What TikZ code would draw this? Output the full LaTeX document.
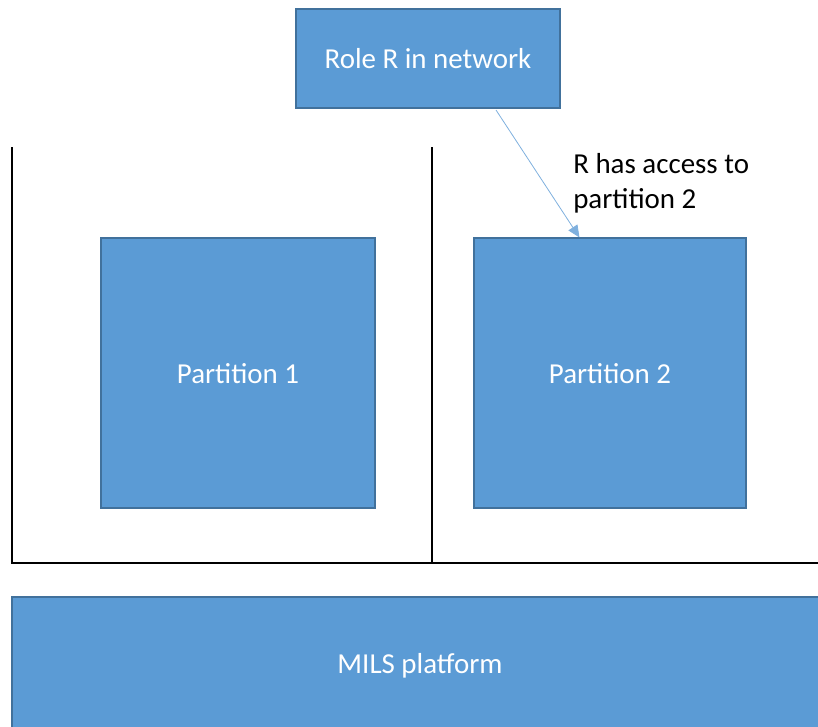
\documentclass[tikz,border=0pt]{standalone}
\usepackage{fontspec}
\setmainfont{Carlito}
\usepackage{xcolor}
\usepackage{tikz}
\usetikzlibrary{calc,arrows.meta}
\definecolor{boxfill}{HTML}{5B9BD5}
\definecolor{boxedge}{HTML}{41719C}
\definecolor{arrowc}{HTML}{7FB0DE}
\tikzset{
  blk/.style={draw=boxedge, fill=boxfill, line width=0.8pt, text=white,
    inner sep=0pt, text height=17pt, text depth=2pt,
    font=\fontsize{21.7}{26}\selectfont},
  wall/.style={draw=black, line width=1.6pt, line cap=rect},
  link/.style={draw=arrowc, line width=0.6pt, -{Triangle[length=9pt,width=8pt]}},
  lab/.style={text=black, font=\fontsize{21.7}{26.2}\selectfont, align=left,
    inner sep=0pt},
}

\begin{document}
\begin{tikzpicture}[x=0.75pt,y=-0.75pt]
  \useasboundingbox (0,0) rectangle (818,726);

  % partitions walls
  \coordinate (wtl) at (12,148);
  \coordinate (wtm) at (432,148);
  \coordinate (wbm) at (432,563);
  \coordinate (wbr) at (818,563);
  \draw[wall] (wtl) |- (wbr);
  \draw[wall] (wtm) -- (wbm);

  \node[blk, minimum width=264*0.75pt, minimum height=99*0.75pt] (role) at (428,58.5) {Role R in network};
  \node[blk, minimum width=274*0.75pt, minimum height=270*0.75pt] (part1) at (238,373) {Partition 1};
  \node[blk, minimum width=272*0.75pt, minimum height=270*0.75pt] (part2) at (610,373) {Partition 2};

  \fill[boxfill] (12,597) rectangle (820,728);
  \draw[boxedge, line width=0.8pt] (820,597) -- (12,597) -- (12,728);
  \node[text=white, font=\fontsize{21.7}{26}\selectfont] (mils) at (420,666) {MILS platform};

  \node[lab, anchor=north west] (access) at (573,153) {R has access to\\partition 2};

  \coordinate (rtail) at (496,110);
  \coordinate (rhead) at ($(part2.north west)+(106,0)$);
  \draw[link] (rtail) -- (rhead);
\end{tikzpicture}
\end{document}
